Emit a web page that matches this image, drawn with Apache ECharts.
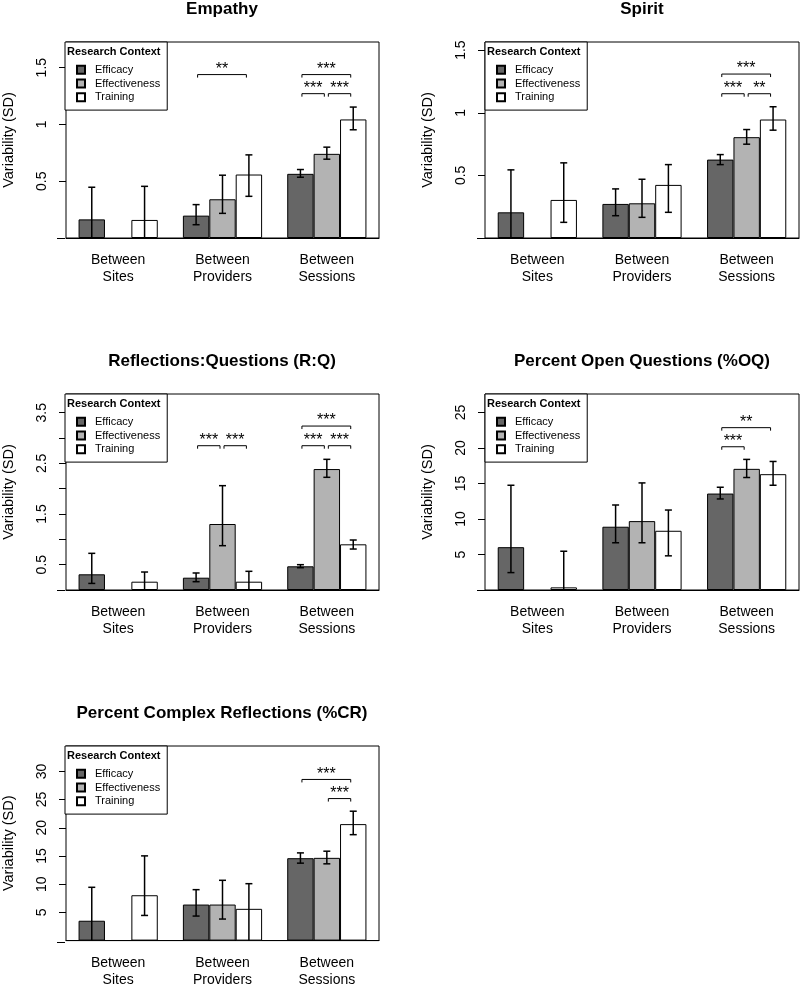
<!DOCTYPE html>
<html><head><meta charset="utf-8">
<script src="https://cdn.jsdelivr.net/npm/echarts@6/dist/echarts.min.js"></script>
<style>html,body{margin:0;padding:0;background:#fff}#c{width:800px;height:988px}</style>
</head><body><div id="c"></div>
<script>
// ---------- data ----------
const categories = ['Between\nSites', 'Between\nProviders', 'Between\nSessions'];
const contexts = ['Efficacy', 'Effectiveness', 'Training'];
const panelTitles = ['Empathy', 'Spirit', 'Reflections:Questions (R:Q)', 'Percent Open Questions (%OQ)', 'Percent Complex Reflections (%CR)'];

// rows: Efficacy, Effectiveness, Training ; columns: Sites, Providers, Sessions
const empathyMeans = [[0.164, 0.197, 0.565], [null, 0.341, 0.741], [0.159, 0.559, 1.044]];
const empathyLower = [[null, 0.117, 0.535], [null, 0.217, 0.694], [null, 0.367, 0.953]];
const empathyUpper = [[0.447, 0.294, 0.603], [null, 0.553, 0.800], [0.455, 0.732, 1.153]];
const empathySig = [[1, 0, 2, 1.439], [2, 0, 2, 1.439], [2, 0, 1, 1.271], [2, 1, 2, 1.271]];
const empathySigLabels = ['**', '***', '***', '***'];
const empathyAxisMax = 1.726;
const empathyTicks = [0.5, 1, 1.5];
const empathyTickLabels = [0.5, 1, 1.5];

const spiritMeans = [[0.205, 0.272, 0.626], [null, 0.277, 0.805], [0.304, 0.424, 0.946]];
const spiritLower = [[null, 0.178, 0.586], [null, 0.165, 0.749], [0.125, 0.205, 0.861]];
const spiritUpper = [[0.544, 0.392, 0.666], [null, 0.469, 0.866], [0.600, 0.586, 1.048]];
const spiritSig = [[2, 0, 2, 1.309], [2, 0, 1, 1.152], [2, 1, 2, 1.152]];
const spiritSigLabels = ['***', '***', '**'];
const spiritAxisMax = 1.565;
const spiritTicks = [0.5, 1, 1.5];
const spiritTickLabels = [0.5, 1, 1.5];

const rqMeans = [[0.31, 0.243, 0.468], [null, 1.303, 2.388], [0.164, 0.164, 0.902]];
const rqLower = [[0.13, 0.164, 0.44], [null, 0.875, 2.225], [null, null, 0.809]];
const rqUpper = [[0.724, 0.336, 0.50], [null, 2.06, 2.58], [0.355, 0.369, 0.987]];
const rqSig = [[1, 0, 1, 2.849], [1, 1, 2, 2.849], [2, 0, 2, 3.237], [2, 0, 1, 2.849], [2, 1, 2, 2.849]];
const rqSigLabels = ['***', '***', '***', '***', '***'];
const rqAxisMax = 3.87;
const rqTicks = [0.5, 1, 1.5, 2, 2.5, 3, 3.5];
const rqTickLabels = [0.5, 1.5, 2.5, 3.5];

const oqMeans = [[6.03, 8.91, 13.58], [null, 9.70, 17.06], [0.37, 8.34, 16.31]];
const oqLower = [[2.45, 6.65, 12.82], [null, 6.65, 15.84], [null, 4.81, 14.75]];
const oqUpper = [[14.75, 11.97, 14.47], [null, 15.08, 18.39], [5.46, 11.26, 18.1]];
const oqSig = [[2, 0, 2, 22.86], [2, 0, 1, 20.17]];
const oqSigLabels = ['**', '***'];
const oqAxisMax = 27.6;
const oqTicks = [5, 10, 15, 20, 25];
const oqTickLabels = [5, 10, 15, 20, 25];

const crMeans = [[3.52, 6.39, 14.61], [null, 6.39, 14.67], [8.04, 5.63, 20.65]];
const crLower = [[null, 4.35, 13.73], [null, 3.82, 13.61], [4.46, null, 18.78]];
const crUpper = [[9.45, 9.03, 15.55], [null, 10.69, 15.85], [15.02, 10.09, 22.94]];
const crSig = [[2, 0, 2, 28.57], [2, 1, 2, 25.18]];
const crSigLabels = ['***', '***'];
const crAxisMax = 34.5;
const crTicks = [5, 10, 15, 20, 25, 30];
const crTickLabels = [5, 10, 15, 20, 25, 30];

// ---------- layout & style ----------
const FONT = 'Liberation Sans';
const BAR_W = 26.4;
const colors = ['#666666', '#b3b3b3', '#ffffff'];
const gridLeft = [65, 485, 65, 485, 65];
const gridTop = [42, 42, 394, 394, 746];
const GRID_W = 314, GRID_H = 196;

const panels = [
  [empathyMeans, empathyLower, empathyUpper, empathySig, empathySigLabels, empathyAxisMax, empathyTicks, empathyTickLabels],
  [spiritMeans, spiritLower, spiritUpper, spiritSig, spiritSigLabels, spiritAxisMax, spiritTicks, spiritTickLabels],
  [rqMeans, rqLower, rqUpper, rqSig, rqSigLabels, rqAxisMax, rqTicks, rqTickLabels],
  [oqMeans, oqLower, oqUpper, oqSig, oqSigLabels, oqAxisMax, oqTicks, oqTickLabels],
  [crMeans, crLower, crUpper, crSig, crSigLabels, crAxisMax, crTicks, crTickLabels]
];

const option = {
  animation: false,
  backgroundColor: '#fff',
  title: [], grid: [], xAxis: [], yAxis: [], legend: [], series: [], graphic: []
};

function errorBarRender(params, api) {
  const cat = api.value(0), k = api.value(1), lo = api.value(2), hi = api.value(3), hasCap = api.value(4);
  const pTop = api.coord([cat, hi]);
  const pLo = api.coord([cat, lo]);
  const x = pTop[0] + (k - 1) * BAR_W;
  const st = { stroke: '#000', lineWidth: 1.5 };
  const children = [
    { type: 'line', shape: { x1: x, y1: pTop[1], x2: x, y2: pLo[1] }, style: st },
    { type: 'line', shape: { x1: x - 3.5, y1: pTop[1], x2: x + 3.5, y2: pTop[1] }, style: st }
  ];
  if (hasCap) children.push({ type: 'line', shape: { x1: x - 3.5, y1: pLo[1], x2: x + 3.5, y2: pLo[1] }, style: st });
  return { type: 'group', children: children };
}

function makeSigRender(labels) {
  return function (params, api) {
    const cat = api.value(0), a = api.value(1), b = api.value(2), y = api.value(3);
    const p = api.coord([cat, y]);
    const x1 = p[0] + (a - 1) * BAR_W + 1.5;
    const x2 = p[0] + (b - 1) * BAR_W - 2.5;
    const yy = p[1];
    return {
      type: 'group', children: [
        { type: 'polyline', shape: { points: [[x1, yy + 3], [x1, yy], [x2, yy], [x2, yy + 3]] }, style: { stroke: '#000', lineWidth: 1, fill: null } },
        { type: 'text', style: { text: labels[params.dataIndex], x: (x1 + x2) / 2, y: yy + 3, align: 'center', verticalAlign: 'bottom', font: '16px "' + FONT + '"', fill: '#000' } }
      ]
    };
  };
}

panels.forEach(function (pd, i) {
  const means = pd[0], lower = pd[1], upper = pd[2], sig = pd[3], sigLabels = pd[4], axisMax = pd[5], ticks = pd[6], tickLabels = pd[7];
  const gl = gridLeft[i], gt = gridTop[i];
  option.title.push({
    text: panelTitles[i], left: gl + GRID_W / 2, top: gt - 43, textAlign: 'center', padding: 0,
    textStyle: { fontFamily: FONT, fontWeight: 'bold', fontSize: 17, lineHeight: 20, color: '#000' }
  });
  option.grid.push({ left: gl, top: gt, width: GRID_W, height: GRID_H, show: true, borderColor: '#000', borderWidth: 1, backgroundColor: 'transparent' });
  option.xAxis.push({
    type: 'category', gridIndex: i, data: categories,
    axisLine: { show: true, lineStyle: { color: '#000', width: 1 } },
    axisTick: { show: false },
    axisLabel: { interval: 0, fontFamily: FONT, fontSize: 14, lineHeight: 16.7, margin: 14, color: '#000' }
  });
  option.yAxis.push({
    type: 'value', gridIndex: i, min: 0, max: axisMax,
    name: 'Variability (SD)', nameLocation: 'middle', nameGap: 50,
    nameTextStyle: { fontFamily: FONT, fontSize: 14.5, color: '#000' },
    axisLine: { show: false },
    splitLine: { show: false },
    axisTick: { show: true, length: 7, customValues: ticks, lineStyle: { color: '#000', width: 1 } },
    axisLabel: { show: true, customValues: tickLabels, rotate: 90, margin: 17, fontFamily: FONT, fontSize: 14, color: '#000' }
  });
  contexts.forEach(function (ctx, k) {
    option.series.push({
      type: 'bar', name: ctx, xAxisIndex: i, yAxisIndex: i,
      data: means[k].map(function (v) { return v == null ? '-' : v; }),
      barWidth: BAR_W, barGap: '0%',
      itemStyle: { color: colors[k], borderColor: '#000', borderWidth: 1 }
    });
  });
  const ebData = [];
  contexts.forEach(function (ctx, k) {
    for (let c = 0; c < categories.length; c++) {
      if (upper[k][c] == null) continue;
      const lo = lower[k][c];
      ebData.push([c, k, lo == null ? 0 : lo, upper[k][c], lo == null ? 0 : 1]);
    }
  });
  option.series.push({
    type: 'custom', xAxisIndex: i, yAxisIndex: i, renderItem: errorBarRender,
    data: ebData, encode: { x: 0, y: [2, 3] }, z: 5, silent: true
  });
  option.series.push({
    type: 'custom', xAxisIndex: i, yAxisIndex: i, renderItem: makeSigRender(sigLabels),
    data: sig, encode: { x: 0, y: 3 }, z: 5, silent: true
  });
  option.legend.push({
    left: gl, top: gt, orient: 'vertical', data: contexts, selectedMode: false, icon: 'rect',
    itemWidth: 8, itemHeight: 8, itemGap: 0, padding: [21, 7, 6, 11],
    borderColor: '#000', borderWidth: 1, backgroundColor: '#fff',
    textStyle: { fontFamily: FONT, fontSize: 11, lineHeight: 13.7, color: '#000', padding: [0, 0, 0, 5] }
  });
  option.graphic.push({
    type: 'text', x: gl + 2, y: gt + 10, z: 100,
    style: { text: 'Research Context', font: 'bold 11px "' + FONT + '"', fill: '#000', verticalAlign: 'middle', align: 'left' }
  });
  option.graphic.push({
    type: 'line', z: 100,
    shape: { x1: gl - 8, y1: gt + GRID_H + 0.5, x2: gl, y2: gt + GRID_H + 0.5 },
    style: { stroke: '#000', lineWidth: 1 }
  });
});

const chart = echarts.init(document.getElementById('c'), null, { renderer: 'canvas' });
chart.setOption(option);
</script></body></html>
